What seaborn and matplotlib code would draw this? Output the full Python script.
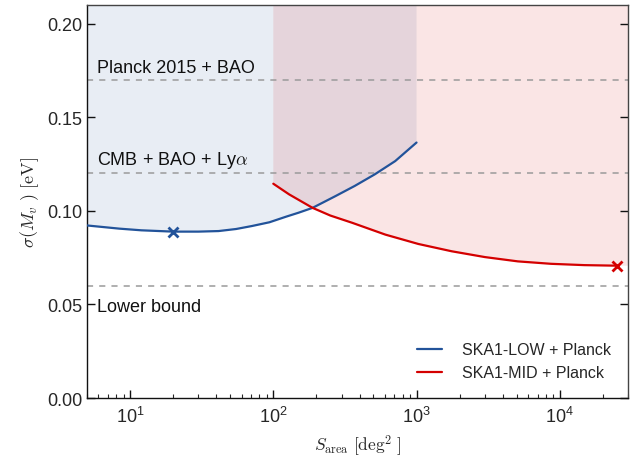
import matplotlib
matplotlib.use("Agg")
import matplotlib.pyplot as plt
import seaborn as sns
import pandas as pd
import numpy as np

# ---- data ----
low_area = [5, 8.4, 12, 20, 30, 41.5, 55, 71, 94, 123, 150, 188, 272, 370, 511, 710, 1000]
low_sigma = [0.0922, 0.0905, 0.0896, 0.0889, 0.0889, 0.0892, 0.0903, 0.0919, 0.0939,
             0.0969, 0.0990, 0.1016, 0.1079, 0.1133, 0.1195, 0.1266, 0.1365]
mid_area = [100, 129, 188, 250, 356, 606, 1030, 1760, 3000, 5100, 8700, 14800, 25000]
mid_sigma = [0.1145, 0.1088, 0.1016, 0.0975, 0.0936, 0.0873, 0.0823, 0.0784,
             0.0753, 0.0730, 0.0717, 0.0710, 0.0707]
low_best = (20, 0.0889)
mid_best = (25000, 0.0707)
x_limits = (5, 30000)
y_limits = (0, 0.21)
ref_levels = [0.17, 0.12, 0.06]
ref_labels = ["Planck 2015 + BAO", r"CMB + BAO + Ly$\alpha$", "Lower bound"]
series_names = ["SKA1-LOW + Planck", "SKA1-MID + Planck"]

blue = "#22539a"
red = "#d40000"

sns.set_theme(style="ticks")
plt.rcParams["font.family"] = ["Liberation Sans", "DejaVu Sans"]
plt.rcParams["mathtext.fontset"] = "cm"

df = pd.concat([
    pd.DataFrame({"area": low_area, "sigma": low_sigma, "series": series_names[0]}),
    pd.DataFrame({"area": mid_area, "sigma": mid_sigma, "series": series_names[1]}),
])

fig = plt.figure(figsize=(6.3, 4.6), dpi=100)
ax = fig.add_axes([0.138, 0.1326, 0.859, 0.8544])

# shaded regions above each curve
ax.fill_between(low_area, low_sigma, 1.0, color=blue, alpha=0.1, lw=0, zorder=0)
ax.fill_between(mid_area + [x_limits[1]], mid_sigma + [mid_sigma[-1]], 1.0,
                color=red, alpha=0.1, lw=0, zorder=0)

for lvl in ref_levels:
    ax.axhline(lvl, color="#9a9a9a", ls=(0, (4, 4)), lw=1.1, zorder=1)

sns.lineplot(data=df, x="area", y="sigma", hue="series", palette=[blue, red],
             lw=1.6, ax=ax, sort=False, estimator=None, zorder=3)

ax.plot(*low_best, marker="x", color=blue, ms=7, mew=2, zorder=4)
ax.plot(*mid_best, marker="x", color=red, ms=7, mew=2, zorder=4)

ax.set_xscale("log")
ax.set_xlim(*x_limits)
ax.set_ylim(*y_limits)
ax.set_yticks([0.0, 0.05, 0.10, 0.15, 0.20])
ax.set_yticklabels(["0.00", "0.05", "0.10", "0.15", "0.20"])

label_ys = [0.1743, 0.1249, 0.0466]
for y, t in zip(label_ys, ref_labels):
    ax.text(5.9, y, t, fontsize=13, va="baseline", ha="left", color="#111111")

ax.set_xlabel(r"$S_\mathrm{area}\ [\mathrm{deg}^2\ ]$", fontsize=12.5)
ax.set_ylabel(r"$\sigma(M_v\ )\ [\mathrm{eV}]$", fontsize=13)

ax.tick_params(axis="both", which="major", direction="in", length=6, width=1,
               labelsize=13, color="#111111")
ax.tick_params(axis="x", which="minor", direction="in", length=3, width=0.8)
ax.tick_params(axis="y", which="both", right=True)
ax.tick_params(axis="x", which="both", top=False)
ax.tick_params(axis="x", pad=6)

for s in ["left", "bottom"]:
    ax.spines[s].set_color("#111111")
    ax.spines[s].set_linewidth(1.0)
for s in ["top", "right"]:
    ax.spines[s].set_visible(True)
    ax.spines[s].set_color("#444444")
    ax.spines[s].set_linewidth(1.0)

leg = ax.legend(loc="lower right", frameon=False, fontsize=11.5,
                handlelength=1.6, handletextpad=1.2, borderaxespad=0.7,
                labelspacing=0.5)

fig.savefig("out.png", dpi=100)
